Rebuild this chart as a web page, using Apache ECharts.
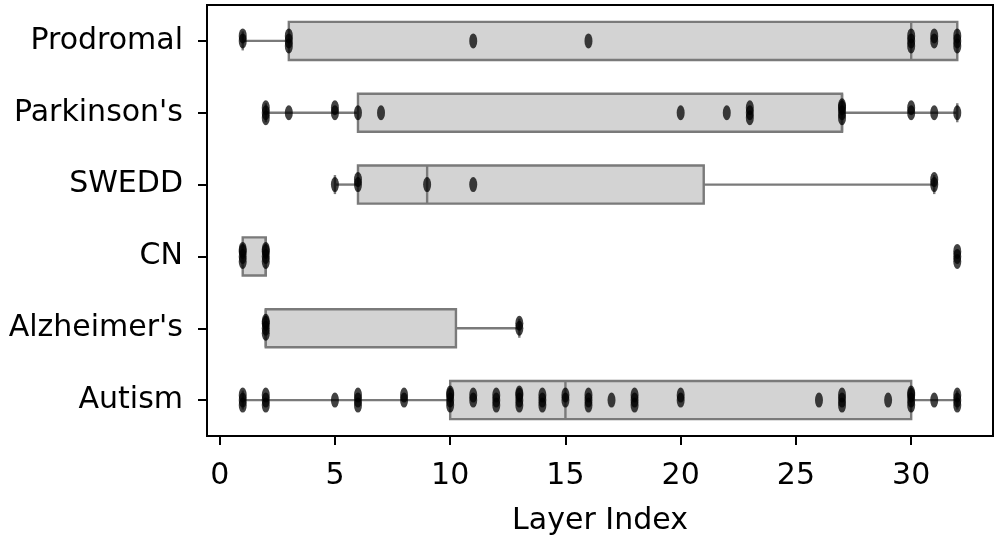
<!DOCTYPE html>
<html>
<head>
<meta charset="utf-8">
<title>Layer Index</title>
<script src="https://cdn.jsdelivr.net/npm/echarts@6/dist/echarts.min.js"></script>
<style>
	html, body { margin: 0; padding: 0; background: #fff; }
	#main { width: 997px; height: 539px; }
</style>
</head>
<body>
<div id="main"></div>
<script type="text/javascript">
	// categories, top to bottom
	var groups = ['Prodromal', "Parkinson's", 'SWEDD', 'CN', "Alzheimer's", 'Autism'];
	// box stats: [whisker low, Q1, median, Q3, whisker high]
	var boxProdromal = [1, 3, 30, 32, 32];
	var boxParkinson = [2, 6, 27, 27, 32];
	var boxSwedd = [5, 6, 9, 21, 31];
	var boxCn = [1, 1, 2, 2, 2];
	var boxAlzheimer = [2, 2, 2, 10.25, 13];
	var boxAutism = [1, 10, 15, 30, 32];
	// strip points (layer indices, repeats where the marks are darker)
	var ptsProdromal = [1, 1, 3, 3, 3, 11, 16, 30, 30, 30, 31, 31, 32, 32, 32];
	var ptsParkinson = [2, 2, 2, 3, 5, 5, 6, 7, 20, 22, 23, 23, 23, 27, 27, 27, 27, 30, 30, 31, 32];
	var ptsSwedd = [5, 6, 6, 9, 11, 31, 31];
	var ptsCn = [1, 1, 1, 1, 2, 2, 2, 2, 32, 32, 32];
	var ptsAlzheimer = [2, 2, 2, 2, 13, 13];
	var ptsAutism = [1, 1, 1, 2, 2, 2, 5, 6, 6, 6, 8, 8, 10, 10, 10, 10, 11, 11, 12, 12, 12,
		13, 13, 13, 13, 14, 14, 14, 15, 15, 16, 16, 16, 17, 18, 18, 18, 20, 20, 26, 27, 27, 27,
		29, 30, 30, 30, 30, 31, 32, 32, 32];
	var xTicks = [0, 5, 10, 15, 20, 25, 30];

	var boxes = [boxProdromal, boxParkinson, boxSwedd, boxCn, boxAlzheimer, boxAutism];
	var points = [ptsProdromal, ptsParkinson, ptsSwedd, ptsCn, ptsAlzheimer, ptsAutism];

	var boxData = [];
	for (var i = 0; i < boxes.length; i++) {
		boxData.push([i].concat(boxes[i]));
	}
	// small fixed vertical spread for repeated values
	var spread = [0, -5, 5, -7, 7, -2, 2];
	var stripData = [];
	for (var i = 0; i < points.length; i++) {
		var seen = {};
		for (var j = 0; j < points[i].length; j++) {
			var v = points[i][j];
			var k = seen[v] || 0;
			seen[v] = k + 1;
			stripData.push({ value: [v, i], symbolOffset: [0, spread[k % spread.length]] });
		}
	}

	var edge = '#7a7a7a';
	function renderBox(params, api) {
		var c = api.value(0);
		var lo = api.coord([api.value(1), c]);
		var q1 = api.coord([api.value(2), c]);
		var md = api.coord([api.value(3), c]);
		var q3 = api.coord([api.value(4), c]);
		var hi = api.coord([api.value(5), c]);
		var h = api.size([0, 1])[1] * 0.53;
		var cap = h * 0.5;
		var y = lo[1];
		var line = { stroke: edge, lineWidth: 2.4 };
		return {
			type: 'group',
			children: [
				{ type: 'line', shape: { x1: lo[0], y1: y, x2: q1[0], y2: y }, style: line },
				{ type: 'line', shape: { x1: q3[0], y1: y, x2: hi[0], y2: y }, style: line },
				{ type: 'line', shape: { x1: lo[0], y1: y - cap / 2, x2: lo[0], y2: y + cap / 2 }, style: line },
				{ type: 'line', shape: { x1: hi[0], y1: y - cap / 2, x2: hi[0], y2: y + cap / 2 }, style: line },
				{ type: 'rect', shape: { x: q1[0], y: y - h / 2, width: q3[0] - q1[0], height: h },
					style: { fill: '#d3d3d3', stroke: edge, lineWidth: 2.4 } },
				{ type: 'line', shape: { x1: md[0], y1: y - h / 2, x2: md[0], y2: y + h / 2 }, style: line }
			]
		};
	}

	var chart = echarts.init(document.getElementById('main'));
	var font = 'DejaVu Sans';
	var option = {
		animation: false,
		textStyle: { fontFamily: font },
		grid: {
			left: 207, right: 4, top: 5, bottom: 103,
			outerBoundsMode: 'none',
			containLabel: false,
			show: true, borderColor: '#000', borderWidth: 2, backgroundColor: '#fff'
		},
		xAxis: {
			type: 'value',
			min: -0.55,
			max: 33.55,
			name: 'Layer Index',
			nameLocation: 'middle',
			nameGap: 70,
			nameTextStyle: { fontSize: 30, color: '#000', fontFamily: font },
			splitLine: { show: false },
			axisLine: { show: true, onZero: false, lineStyle: { color: '#000', width: 2 } },
			axisTick: { show: true, length: 9, lineStyle: { color: '#000', width: 2 }, customValues: xTicks },
			axisLabel: { fontSize: 30, color: '#000', margin: 25, fontFamily: font, customValues: xTicks }
		},
		yAxis: {
			type: 'category',
			data: groups,
			inverse: true,
			boundaryGap: true,
			axisLine: { show: true, onZero: false, lineStyle: { color: '#000', width: 2 } },
			axisTick: { show: true, alignWithLabel: true, length: 9, lineStyle: { color: '#000', width: 2 } },
			axisLabel: { fontSize: 30, color: '#000', margin: 24, fontFamily: font },
			splitLine: { show: false }
		},
		series: [
			{
				type: 'custom',
				renderItem: renderBox,
				data: boxData,
				encode: { x: [1, 2, 3, 4, 5], y: 0 },
				z: 2
			},
			{
				type: 'scatter',
				data: stripData,
				symbol: 'circle',
				symbolSize: [8, 15],
				itemStyle: { color: '#000', opacity: 0.74 },
				z: 3
			}
		]
	};
	chart.setOption(option);
</script>
</body>
</html>
